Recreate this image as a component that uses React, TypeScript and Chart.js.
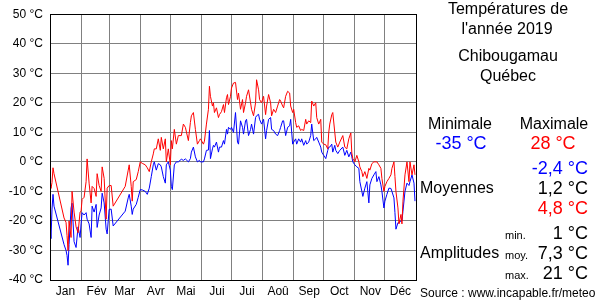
import React, { useEffect, useRef } from 'react';
import { Chart, registerables } from 'chart.js';

Chart.register(...registerables);

const FONT = '"Liberation Sans", Arial, sans-serif';

const monthLabels = ['Jan', 'Fév', 'Mar', 'Avr', 'Mai', 'Jui', 'Jui', 'Aoû', 'Sep', 'Oct', 'Nov', 'Déc'];
const monthStarts = [0, 31, 59, 90, 120, 151, 181, 212, 243, 273, 304, 334, 365];
const yTicks = [-40, -30, -20, -10, 0, 10, 20, 30, 40, 50];

// day of year (0 = 1 Jan)
const days = [
  0, 1, 2, 3, 4, 14, 16, 17, 18, 19,
  21, 22, 24, 26, 28, 30, 31, 32, 34, 36,
  37, 39, 41, 42, 44, 46, 47, 49, 51, 52,
  54, 56, 57, 59, 61, 63, 75, 78, 79, 81,
  82, 83, 86, 88, 90, 92, 95, 97, 99, 101,
  103, 104, 106, 108, 110, 111, 113, 115, 116, 118,
  120, 121, 122, 124, 126, 128, 131, 133, 135, 138,
  140, 141, 143, 145, 147, 149, 150, 153, 154, 156,
  158, 159, 160, 162, 163, 164, 166, 168, 169, 171,
  173, 174, 176, 177, 178, 180, 181, 183, 185, 187,
  188, 190, 192, 193, 195, 196, 198, 200, 201, 203,
  205, 206, 208, 209, 211, 213, 215, 216, 218, 220,
  221, 223, 225, 227, 229, 230, 232, 233, 235, 237,
  239, 240, 242, 243, 245, 246, 248, 250, 251, 253,
  255, 256, 258, 260, 261, 263, 265, 266, 268, 270,
  271, 273, 275, 277, 278, 279, 281, 282, 284, 285,
  287, 289, 292, 294, 296, 298, 300, 301, 302, 304,
  306, 308, 309, 311, 312, 314, 316, 318, 319, 321,
  323, 325, 326, 328, 330, 331, 333, 334, 336, 338,
  340, 341, 343, 344, 345, 347, 348, 350, 351, 352,
  354, 356, 358, 359, 361, 363, 364,
];

const maxTemps = [
  -7, -9, -7, -2, -4, -19, -20.5, -25, -30, -20,
  -25.6, -10, -17, -22, -24, -17, -16.7, -12.7, -12, -6.7,
  1, -7.2, -13.9, -8.3, -9, -11.7, -4, -8, -10, -1.7,
  -5.6, -19.4, -8.9, -8, -8, -15, -8.3, -2.8, -1, -8.3,
  -13.3, -6.7, -6, -3.3, 0, -0.5, -1, -2, -3.3, 0,
  2.7, 4.4, 4.4, 7.8, 3.9, 8.3, 4.4, 7.8, 0, 4.4,
  -1, 7.2, 4.4, 11, 6, 8.9, 8.9, 12.8, 11.7, 7.2,
  13.3, 15.6, 16.7, 11, 6, 7.2, 7.8, 6, 7, 12.8,
  17.8, 25.6, 22.2, 18.9, 20, 16.7, 18.3, 15, 16, 17,
  19.4, 16.7, 21.7, 22.8, 19.4, 22.2, 25, 26.7, 26.9, 21.1,
  23.3, 17.8, 21.1, 16.7, 20, 22.2, 24.4, 20, 17.8, 15.6,
  20, 27.8, 24.4, 21.1, 20, 22.2, 16, 18.9, 22.8, 20,
  15.6, 17.8, 16.7, 18.9, 21.1, 20.6, 18.9, 18.3, 22.2, 23.9,
  23.3, 18.9, 16.7, 17.8, 13.3, 11.7, 12.2, 10.6, 11, 10.6,
  14.4, 12.8, 13.9, 13.3, 20.6, 18.9, 20, 15, 12.8, 14.4,
  6.7, 6, 5.8, 4.4, 10, 12.8, 16, 16.7, 10, 6.7,
  5, 6.7, 8.9, 5, 4.4, 7.8, 9.8, 3, 1.1, 0,
  2.2, 0, -1.7, -3.3, -5, -3.3, -5.6, -2.2, -2.8, -0.6,
  0, 0, 0, -1, -2.2, -5.6, -10, -8.3, -6.7, -5.6,
  -4.4, -2.2, 0, -5, -10, -15.6, -21, -17.8, -21, -13.3,
  -4.4, 0, -6.7, 0, -4.4, -1, -4.4,
];

const minTemps = [
  -21, -26, -16, -11, -15, -28, -30, -31.7, -35, -28,
  -15.6, -14, -27, -29, -22, -25.6, -21, -17.2, -18, -17.2,
  -19.4, -21, -25.6, -15, -17, -14.4, -22.2, -18, -15.6, -10.6,
  -13.9, -22.8, -24.4, -16.1, -16, -21.7, -16.7, -12.2, -11, -15,
  -17.8, -16, -14.4, -12, -9.4, -9.5, -10, -11, -8.9, -5,
  -1, 0, -2.8, -0.6, -1, -1.7, -5, -7.2, -1, 0,
  -2.8, -8.3, -9.4, -1, 0, 0, 0.9, 0.5, 1, 0,
  1.1, 3.3, 5, 1.7, 0, 0.5, 0, 0, 1, 3.9,
  4, 10.6, 1.1, 4.4, 5.6, 5, 6.7, 3.3, 5, 5,
  7.2, 6, 11, 9.4, 11.7, 11, 11.7, 10, 16.7, 6.7,
  6, 13.9, 11.7, 9.4, 13.9, 14.4, 8.9, 11, 12.8, 9.4,
  15, 15.6, 16.1, 14.4, 12.8, 14.4, 7.8, 10.6, 14.4, 15,
  11, 10.6, 9.4, 8.9, 10.6, 11.7, 13.9, 13.9, 8.9, 11.7,
  12.2, 14.4, 6, 6.7, 7.8, 6, 7.8, 6.7, 7.8, 5.6,
  7.2, 6, 6.7, 8.9, 12.8, 7.2, 7.8, 8.3, 6.7, 5,
  3.3, 2.2, 1.1, 3.9, 5, 5, 6, 3.3, 5.6, 3.9,
  2.8, 3.9, 5, 2.2, 3.9, 1.7, 3.3, 1.7, 0, -1,
  -1.7, -2.2, -6.7, -10, -11.7, -8.9, -6.7, -13.9, -7.8, -5.6,
  -4.4, -3.3, -6.7, -5, -7.8, -10, -15.6, -13.3, -11, -8.9,
  -9, -10, -12.2, -17.2, -22.8, -20.6, -20.6, -20, -20, -16.7,
  -10, -7.2, -8, -6.7, -4.4, -7.2, -13.3,
];

const titleLines = ['Températures de', "l'année 2019"];
const placeLines = ['Chibougamau', 'Québec'];
const extremeLabels = ['Minimale', 'Maximale'];
const extremeValues = ['-35 °C', '28 °C'];
const meanValues = ['-2,4 °C', '1,2 °C', '4,8 °C'];
const amplitudeKeys = ['min.', 'moy.', 'max.'];
const amplitudeValues = ['1 °C', '7,3 °C', '21 °C'];
const sourceText = 'Source : www.incapable.fr/meteo';

const BLUE = '#0000ff';
const RED = '#ff0000';

const panelPlugin = {
  id: 'panel',
  afterDraw(chart: any) {
    const { ctx, chartArea } = chart;
    ctx.save();
    ctx.strokeStyle = '#000';
    ctx.lineWidth = 1;
    ctx.strokeRect(
      Math.round(chartArea.left) + 0.5,
      Math.round(chartArea.top) + 0.5,
      Math.round(chartArea.right - chartArea.left),
      Math.round(chartArea.bottom - chartArea.top)
    );

    ctx.textBaseline = 'middle';
    const f = (s: number) => `${s}px ${FONT}`;

    ctx.fillStyle = '#000';
    ctx.textAlign = 'center';
    ctx.font = f(16);
    ctx.fillText(titleLines[0], 508, 10);
    ctx.fillText(titleLines[1], 507, 30);
    ctx.fillText(placeLines[0], 508, 57);
    ctx.fillText(placeLines[1], 508, 77);
    ctx.fillText(extremeLabels[0], 460, 125);
    ctx.fillText(extremeLabels[1], 554, 125);

    ctx.font = f(18);
    ctx.fillStyle = BLUE;
    ctx.fillText(extremeValues[0], 461, 144);
    ctx.fillStyle = RED;
    ctx.fillText(extremeValues[1], 553, 144);

    ctx.textAlign = 'right';
    ctx.fillStyle = BLUE;
    ctx.fillText(meanValues[0], 588, 169);
    ctx.fillStyle = '#000';
    ctx.fillText(meanValues[1], 588, 189);
    ctx.fillStyle = RED;
    ctx.fillText(meanValues[2], 588, 209);
    ctx.fillStyle = '#000';
    ctx.fillText(amplitudeValues[0], 588, 234);
    ctx.fillText(amplitudeValues[1], 588, 254);
    ctx.fillText(amplitudeValues[2], 588, 274);

    ctx.textAlign = 'left';
    ctx.font = f(16);
    ctx.fillText('Moyennes', 420, 189);
    ctx.fillText('Amplitudes', 420, 254);

    ctx.font = f(11);
    ctx.fillText(amplitudeKeys[0], 505, 236);
    ctx.fillText(amplitudeKeys[1], 505, 256);
    ctx.fillText(amplitudeKeys[2], 505, 276);

    ctx.font = f(12);
    ctx.fillText(sourceText, 420, 294);
    ctx.restore();
  },
};

export default function App() {
  const ref = useRef<HTMLCanvasElement>(null);

  useEffect(() => {
    if (!ref.current) return;
    Chart.defaults.font.family = FONT;
    Chart.defaults.font.size = 12;
    Chart.defaults.color = '#000';

    const chart = new Chart(ref.current, {
      type: 'line',
      data: {
        datasets: [
          {
            label: 'Max',
            data: days.map((d, i) => ({ x: d, y: maxTemps[i] })),
            borderColor: RED,
            borderWidth: 1,
            pointRadius: 0,
            tension: 0,
            fill: false,
          },
          {
            label: 'Min',
            data: days.map((d, i) => ({ x: d, y: minTemps[i] })),
            borderColor: BLUE,
            borderWidth: 1,
            pointRadius: 0,
            tension: 0,
            fill: false,
          },
        ],
      },
      options: {
        animation: false,
        responsive: false,
        devicePixelRatio: 1,
        layout: { padding: { top: 10, right: 184, left: 0, bottom: 0 } },
        plugins: { legend: { display: false }, tooltip: { enabled: false } },
        scales: {
          x: {
            type: 'linear',
            min: 0,
            max: 365,
            afterBuildTicks: (s: any) => {
              s.ticks = monthStarts.map((v) => ({ value: v }));
            },
            afterFit: (s: any) => {
              s.height = 20;
            },
            grid: { color: '#808080', lineWidth: 1, drawTicks: false },
            border: { display: false },
            ticks: {
              autoSkip: false,
              maxRotation: 0,
              padding: 4,
              labelOffset: 15.5,
              color: '#000',
              font: { size: 12, family: FONT },
              callback: (_v: any, i: number) => monthLabels[i] ?? '',
            },
          },
          y: {
            type: 'linear',
            min: -40,
            max: 50,
            afterBuildTicks: (s: any) => {
              s.ticks = yTicks.map((v) => ({ value: v }));
            },
            afterFit: (s: any) => {
              s.width = 50;
            },
            grid: { color: '#808080', lineWidth: 1, drawTicks: false },
            border: { display: false },
            ticks: {
              padding: 7,
              color: '#000',
              font: { size: 12, family: FONT },
              callback: (v: any) => `${v} °C`,
            },
          },
        },
      },
      plugins: [panelPlugin],
    } as any);

    return () => chart.destroy();
  }, []);

  return (
    <div style={{ position: 'absolute', left: 0, top: 0, width: 600, height: 300, background: '#fff' }}>
      <canvas ref={ref} width={600} height={300} style={{ display: 'block', width: 600, height: 300 }} />
    </div>
  );
}
